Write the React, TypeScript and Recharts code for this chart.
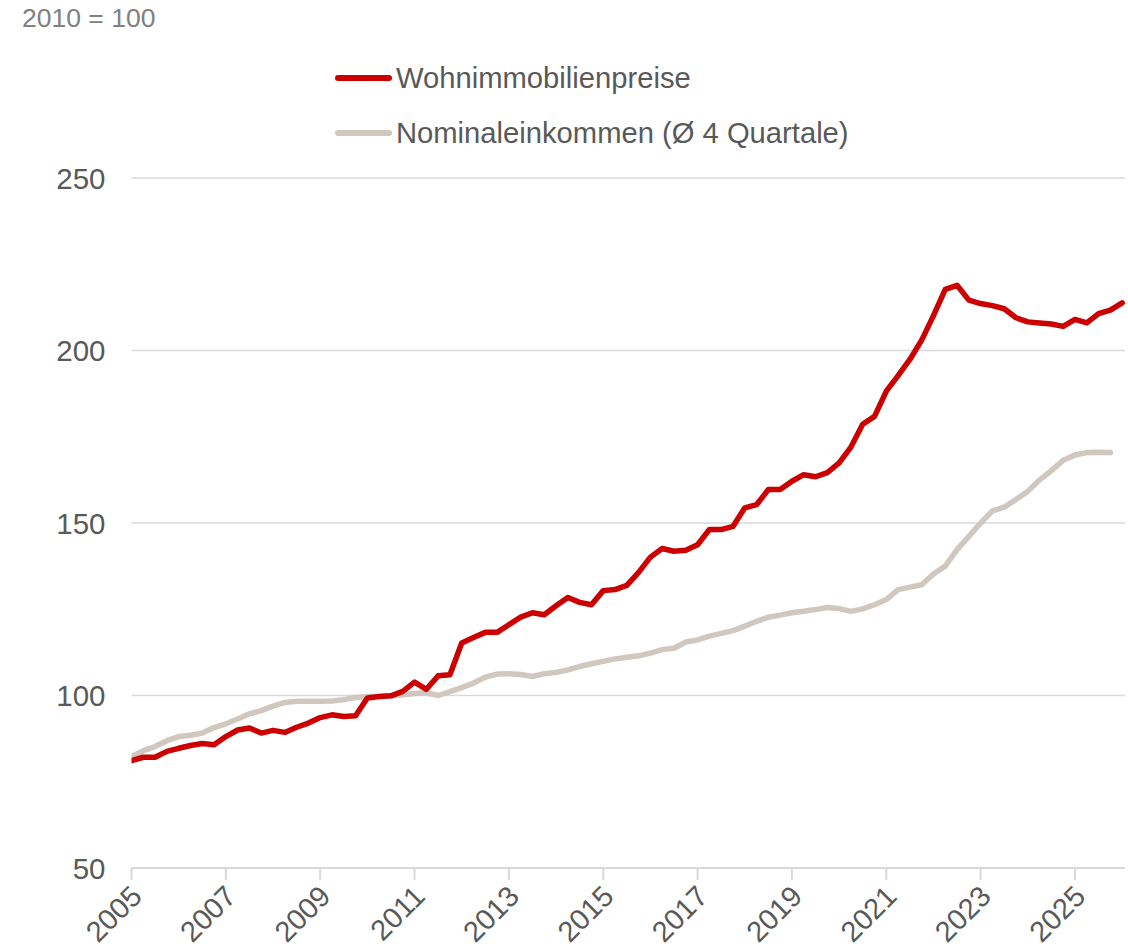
import React from "react";
import { LineChart, Line, XAxis, YAxis, CartesianGrid } from "recharts";

// Quarterly data, 2005 Q1 onward (2010 = 100)
const startYear = 2005;
const wohnimmobilienpreise = [
  81.1, 82.1, 82.1, 83.8, 84.7, 85.5, 86.1, 85.7, 88.1, 90.0,
  90.6, 89.1, 89.9, 89.3, 90.8, 92.0, 93.6, 94.4, 93.9, 94.1,
  99.3, 99.7, 99.9, 101.2, 103.9, 101.8, 105.7, 106.0, 115.2, 116.8,
  118.3, 118.3, 120.5, 122.7, 124.0, 123.4, 126.0, 128.4, 127.0, 126.3,
  130.4, 130.7, 131.9, 135.7, 140.1, 142.6, 141.8, 142.1, 143.7, 148.1,
  148.1, 149.0, 154.4, 155.3, 159.7, 159.7, 162.1, 164.0, 163.4, 164.6,
  167.4, 172.0, 178.6, 180.9, 188.2, 192.7, 197.4, 203.0, 210.1, 217.7,
  218.9, 214.6, 213.6, 213.0, 212.1, 209.5, 208.3, 208.0, 207.7, 207.0,
  209.0, 208.0, 210.7, 211.7, 213.8,
];
const nominaleinkommen = [
  82.3, 84.0, 85.2, 86.9, 88.1, 88.5, 89.1, 90.7, 91.8, 93.2,
  94.7, 95.6, 96.9, 98.0, 98.3, 98.3, 98.3, 98.4, 98.8, 99.4,
  99.7, 99.7, 99.9, 100.2, 100.6, 100.8, 100.0, 101.1, 102.3, 103.6,
  105.3, 106.2, 106.3, 106.1, 105.5, 106.3, 106.7, 107.4, 108.4, 109.2,
  109.9, 110.6, 111.1, 111.5, 112.3, 113.3, 113.7, 115.5, 116.1, 117.2,
  118.0, 118.8, 120.1, 121.5, 122.7, 123.3, 124.0, 124.4, 124.9, 125.5,
  125.2, 124.4, 125.1, 126.3, 127.8, 130.7, 131.4, 132.1, 135.2, 137.5,
  142.3, 146.1, 150.0, 153.5, 154.6, 156.8, 159.2, 162.5, 165.2, 168.2,
  169.7, 170.4, 170.5, 170.4,
];
const xTicks = [2005, 2007, 2009, 2011, 2013, 2015, 2017, 2019, 2021, 2023, 2025];
const yTicks = [50, 100, 150, 200, 250];
const seriesNames = ["Wohnimmobilienpreise", "Nominaleinkommen (Ø 4 Quartale)"];
const unitNote = "2010 = 100";

const RED = "#CC0000";
const GRAY = "#D0C7BF";
const TEXT = "#595959";
const FONT = "'Liberation Sans', Arial, sans-serif";

const data = wohnimmobilienpreise.map((v, i) => ({
  t: startYear + i / 4,
  preise: v,
  einkommen: i < nominaleinkommen.length ? nominaleinkommen[i] : null,
}));

const XTick = (props: any) => {
  const { x, y, payload } = props;
  const ax = x + 5;
  const ay = y + 9;
  return (
    <text
      x={ax}
      y={ay}
      textAnchor="end"
      dominantBaseline="central"
      transform={`rotate(-45, ${ax}, ${ay})`}
      fill={TEXT}
      fontSize={29}
      fontFamily={FONT}
    >
      {payload.value}
    </text>
  );
};

const YTick = (props: any) => {
  const { x, y, payload } = props;
  return (
    <text
      x={x}
      y={y}
      textAnchor="end"
      dominantBaseline="central"
      fill={TEXT}
      fontSize={29.5}
      fontFamily={FONT}
    >
      {payload.value}
    </text>
  );
};

export default function App() {
  return (
    <div style={{ position: "absolute", left: 0, top: 0, width: 1128, height: 950, background: "#fff" }}>
      <LineChart
        width={1128}
        height={950}
        data={data}
        margin={{ top: 178, right: 3, bottom: 0, left: 0 }}
      >
        <CartesianGrid vertical={false} stroke="#D9D9D9" strokeWidth={1.5} />
        <XAxis
          dataKey="t"
          type="number"
          domain={[2005, 2026.06]}
          ticks={xTicks}
          allowDataOverflow
          height={82}
          interval={0}
          axisLine={{ stroke: "#D9D9D9", strokeWidth: 2 }}
          tickLine={{ stroke: "#D9D9D9", strokeWidth: 2 }}
          tickSize={12}
          tick={<XTick />}
        />
        <YAxis
          type="number"
          domain={[50, 250]}
          ticks={yTicks}
          width={131.5}
          axisLine={false}
          tickLine={false}
          tickSize={0}
          tickMargin={26}
          tick={<YTick />}
        />
        <Line
          dataKey="einkommen"
          stroke={GRAY}
          strokeWidth={5.5}
          dot={false}
          activeDot={false}
          strokeLinejoin="round"
          strokeLinecap="round"
          isAnimationActive={false}
          connectNulls={false}
        />
        <Line
          dataKey="preise"
          stroke={RED}
          strokeWidth={5.5}
          dot={false}
          activeDot={false}
          strokeLinejoin="round"
          strokeLinecap="round"
          isAnimationActive={false}
        />
      </LineChart>
      <svg
        width={1128}
        height={170}
        style={{ position: "absolute", left: 0, top: 0, pointerEvents: "none" }}
      >
        <text x={22} y={18} dominantBaseline="central" fill="#808080" fontSize={26.5} fontFamily={FONT}>
          {unitNote}
        </text>
        <line x1={338} y1={78} x2={389} y2={78} stroke={RED} strokeWidth={6} strokeLinecap="round" />
        <text x={396} y={78} dominantBaseline="central" fill={TEXT} fontSize={29.2} fontFamily={FONT}>
          {seriesNames[0]}
        </text>
        <line x1={338} y1={133} x2={389} y2={133} stroke={GRAY} strokeWidth={6} strokeLinecap="round" />
        <text x={396} y={133} dominantBaseline="central" fill={TEXT} fontSize={29.2} fontFamily={FONT}>
          {seriesNames[1]}
        </text>
      </svg>
    </div>
  );
}
